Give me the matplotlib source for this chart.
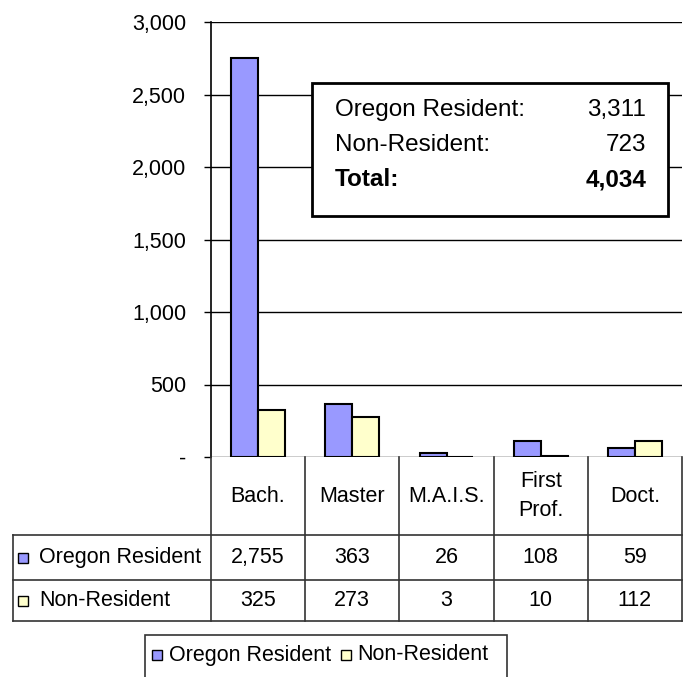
import matplotlib
matplotlib.use('Agg')
import matplotlib.pyplot as plt
from matplotlib.patches import Rectangle
from matplotlib.transforms import blended_transform_factory
import numpy as np

plt.rcParams['font.family'] = ['Liberation Sans', 'DejaVu Sans']

# data
categories = ['Bach.', 'Master', 'M.A.I.S.', 'First\nProf.', 'Doct.']
series_names = ['Oregon Resident', 'Non-Resident']
oregon = [2755, 363, 26, 108, 59]
non_resident = [325, 273, 3, 10, 112]
colors = ['#9999FF', '#FFFFCC']
yticks = [0, 500, 1000, 1500, 2000, 2500, 3000]
ytick_labels = ['-', '500', '1,000', '1,500', '2,000', '2,500', '3,000']
box_rows = [('Oregon Resident:', '3,311'), ('Non-Resident:', '723'), ('Total:', '4,034')]

W, H = 690, 677
FS = 15.5
fig = plt.figure(figsize=(W / 100, H / 100), dpi=100)

# overlay axes in pixel coords (y down)
ov = fig.add_axes([0, 0, 1, 1], zorder=3)
ov.set_xlim(0, W)
ov.set_ylim(H, 0)
ov.axis('off')
ov.patch.set_alpha(0)

# main bar axes
left, right, top, bottom = 211, 682, 22, 457
ax = fig.add_axes([left / W, 1 - bottom / H, (right - left) / W, (bottom - top) / H])
x = np.arange(len(categories))
w = 1 / 3.5
ax.bar(x - w / 2, oregon, w, color=colors[0], edgecolor='black', linewidth=1.5, zorder=3)
ax.bar(x + w / 2, non_resident, w, color=colors[1], edgecolor='black', linewidth=1.5, zorder=3)
ax.set_xlim(-0.5, len(categories) - 0.5)
ax.set_ylim(0, 3000)
ax.set_yticks(yticks)
ax.set_yticklabels(ytick_labels, fontsize=FS)
ax.tick_params(axis='y', direction='out', length=5, width=1, pad=13, color='black')
ax.set_xticks([])
for s in ['top', 'right', 'bottom']:
    ax.spines[s].set_visible(False)
ax.spines['left'].set_linewidth(1.2)
ax.yaxis.grid(True, color='black', linewidth=1)
ax.set_axisbelow(True)

# data table below the axes
tr = blended_transform_factory(ax.transData, ov.transData)
row_top, row1, row2, row_bot = 457, 535, 580, 621
tbl_left = 13
lc = '#333333'
for i in range(len(categories) + 1):
    xb = i - 0.5
    ov.plot([xb, xb], [row_top, row_bot], color=lc, lw=1.2, transform=tr, clip_on=False)
for yy in [row1, row2, row_bot]:
    ov.plot([tbl_left, right], [yy, yy], color=lc, lw=1.2, clip_on=False)
ov.plot([tbl_left, tbl_left], [row1, row_bot], color=lc, lw=1.2, clip_on=False)

for i, cat in enumerate(categories):
    ov.text(i, (row_top + row1) / 2, cat, transform=tr, ha='center', va='center',
            fontsize=FS, linespacing=1.45)
    ov.text(i, (row1 + row2) / 2, f'{oregon[i]:,}', transform=tr, ha='center', va='center', fontsize=FS)
    ov.text(i, (row2 + row_bot) / 2, f'{non_resident[i]:,}', transform=tr, ha='center', va='center', fontsize=FS)

for (name, c, yc) in [(series_names[0], colors[0], (row1 + row2) / 2),
                      (series_names[1], colors[1], (row2 + row_bot) / 2)]:
    ov.add_patch(Rectangle((18, yc - 5), 10, 10, facecolor=c, edgecolor='black', lw=1, clip_on=False))
    ov.text(39, yc, name, ha='left', va='center', fontsize=FS)

# summary box
ov.add_patch(Rectangle((312, 83), 356, 133, facecolor='white', edgecolor='black', lw=2, zorder=4))
for j, (lab, val) in enumerate(box_rows):
    yc = 110 + j * 35
    wt = 'bold' if lab == 'Total:' else 'normal'
    ov.text(335, yc, lab, ha='left', va='center', fontsize=17.5, fontweight=wt, zorder=5)
    ov.text(646, yc, val, ha='right', va='center', fontsize=17.5, fontweight=wt, zorder=5)

# legend
ov.add_patch(Rectangle((145, 635), 362, 60, facecolor='white', edgecolor='#333333', lw=1.2, clip_on=False))
ov.add_patch(Rectangle((152, 650), 10, 10, facecolor=colors[0], edgecolor='black', lw=1))
ov.text(169, 655, series_names[0], ha='left', va='center', fontsize=FS)
ov.add_patch(Rectangle((341, 650), 10, 10, facecolor=colors[1], edgecolor='black', lw=1))
ov.text(357, 655, series_names[1], ha='left', va='center', fontsize=FS)

fig.savefig('out.png', dpi=100)
